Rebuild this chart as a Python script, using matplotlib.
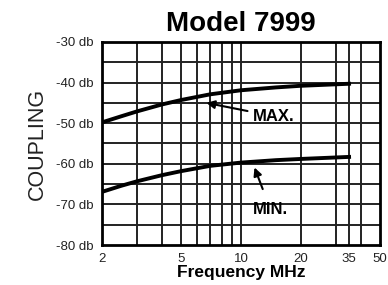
import matplotlib
matplotlib.use('agg')
import matplotlib.pyplot as plt
from matplotlib.ticker import FixedLocator, NullLocator, NullFormatter

plt.rcParams['font.family'] = ['Liberation Sans', 'DejaVu Sans']

# values
freq_mhz = [2, 2.5, 3, 4, 5, 7, 10, 15, 20, 35]
coupling_max = [-49.8, -48.3, -47.1, -45.4, -44.3, -42.9, -41.9, -41.2, -40.8, -40.3]
coupling_min = [-66.9, -65.4, -64.3, -62.8, -61.8, -60.5, -59.7, -59.1, -58.8, -58.3]

x_ticks = [2, 5, 10, 20, 35, 50]
x_grid = [3, 4, 5, 6, 7, 8, 9, 10, 20, 30, 35, 40]
y_ticks = [-30, -40, -50, -60, -70, -80]
y_grid = [-35, -40, -45, -50, -55, -60, -65, -70, -75]

fig = plt.figure(figsize=(3.88, 2.85), dpi=100)
ax = fig.add_axes([0.263, 0.140, 0.716, 0.713])

ax.set_xscale('log')
ax.set_xlim(2, 50)
ax.set_ylim(-80, -30)

# log paper grid
for gx in x_grid:
    ax.axvline(gx, color='#222222', lw=1.4, zorder=1)
for gy in y_grid:
    ax.axhline(gy, color='#222222', lw=1.4, zorder=1)

ax.plot(freq_mhz, coupling_max, color='black', lw=2.8, zorder=3)
ax.plot(freq_mhz, coupling_min, color='black', lw=2.8, zorder=3)

ax.xaxis.set_major_locator(FixedLocator(x_ticks))
ax.xaxis.set_minor_locator(NullLocator())
ax.xaxis.set_minor_formatter(NullFormatter())
ax.set_xticklabels([str(t) for t in x_ticks])
ax.yaxis.set_major_locator(FixedLocator(y_ticks))
ax.set_yticklabels(['%d db' % t for t in y_ticks])
ax.tick_params(length=0, labelsize=9.5, colors='#222222', pad=6)

for s in ax.spines.values():
    s.set_linewidth(2)
    s.set_color('black')

ax.set_title('Model 7999', fontsize=20, fontweight='bold', pad=8)
ax.set_xlabel('Frequency MHz', fontsize=12.5, fontweight='bold', labelpad=0)
ax.set_ylabel('COUPLING', fontsize=15.5, labelpad=6, color='#222222')

ax.annotate('MAX.', xy=(6.7, -45.0), xytext=(11.5, -48.3),
            fontsize=12, fontweight='bold', va='center', ha='left',
            arrowprops=dict(arrowstyle='-|>', color='black', lw=1.5,
                            mutation_scale=12, shrinkA=2, shrinkB=0))
ax.annotate('MIN.', xy=(11.7, -60.9), xytext=(11.5, -71.3),
            fontsize=12, fontweight='bold', va='center', ha='left',
            arrowprops=dict(arrowstyle='-|>', color='black', lw=1.5,
                            mutation_scale=12, shrinkA=8, shrinkB=0))

fig.savefig('out.png', dpi=100)
